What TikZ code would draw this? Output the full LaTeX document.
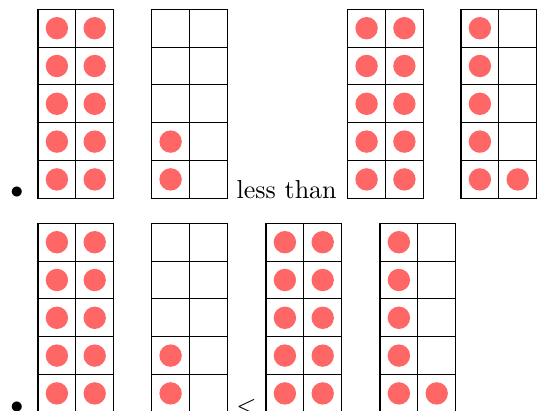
\documentclass[tikz,border=0pt]{standalone}
\usepackage{tikz}

\definecolor{counterred}{RGB}{255,102,102}
\tikzset{
  framecell/.style={draw=black,line width=0.4pt},
  counter/.style={fill=counterred},
}
\newcommand{\cellsz}{37.8}
% ten frame: top left corner, counters in left and right column (filled from the bottom)
\newcommand{\tenframe}[4]{%
  \begin{scope}[shift={(#1,#2)}]
    \foreach \r in {0,...,4}
      \foreach \c in {0,1}
        \draw[framecell] (\c*\cellsz,-\r*\cellsz) rectangle ++(\cellsz,-\cellsz);
    \foreach \k in {1,...,5}{
      \ifnum\k>#3\else\fill[counter] (0.5*\cellsz,{-(5.5-\k)*\cellsz}) circle (11.2);\fi
      \ifnum\k>#4\else\fill[counter] (1.5*\cellsz,{-(5.5-\k)*\cellsz}) circle (11.2);\fi
    }
  \end{scope}}

\begin{document}
\begin{tikzpicture}[x=0.3846pt,y=0.3846pt]
  \useasboundingbox (0,0) rectangle (537,-410);
  % first item
  \node[anchor=base] (dot1) at (17,-198.7) {$\bullet$};
  \tenframe{38}{-9.3}{5}{5}
  \tenframe{151.7}{-9.3}{2}{0}
  \node[anchor=base west,inner sep=0pt] (less) at (236.2,-198.7) {less than};
  \tenframe{347.7}{-9.3}{5}{5}
  \tenframe{461}{-9.3}{5}{1}
  % second item
  \node[anchor=base] (dot2) at (17,-413.7) {$\bullet$};
  \tenframe{38}{-223.3}{5}{5}
  \tenframe{151.7}{-223.3}{2}{0}
  \node[anchor=base west,inner sep=0pt] (lt) at (235.8,-413.7) {$<$};
  \tenframe{266}{-223.3}{5}{5}
  \tenframe{380}{-223.3}{5}{1}
\end{tikzpicture}
\end{document}
